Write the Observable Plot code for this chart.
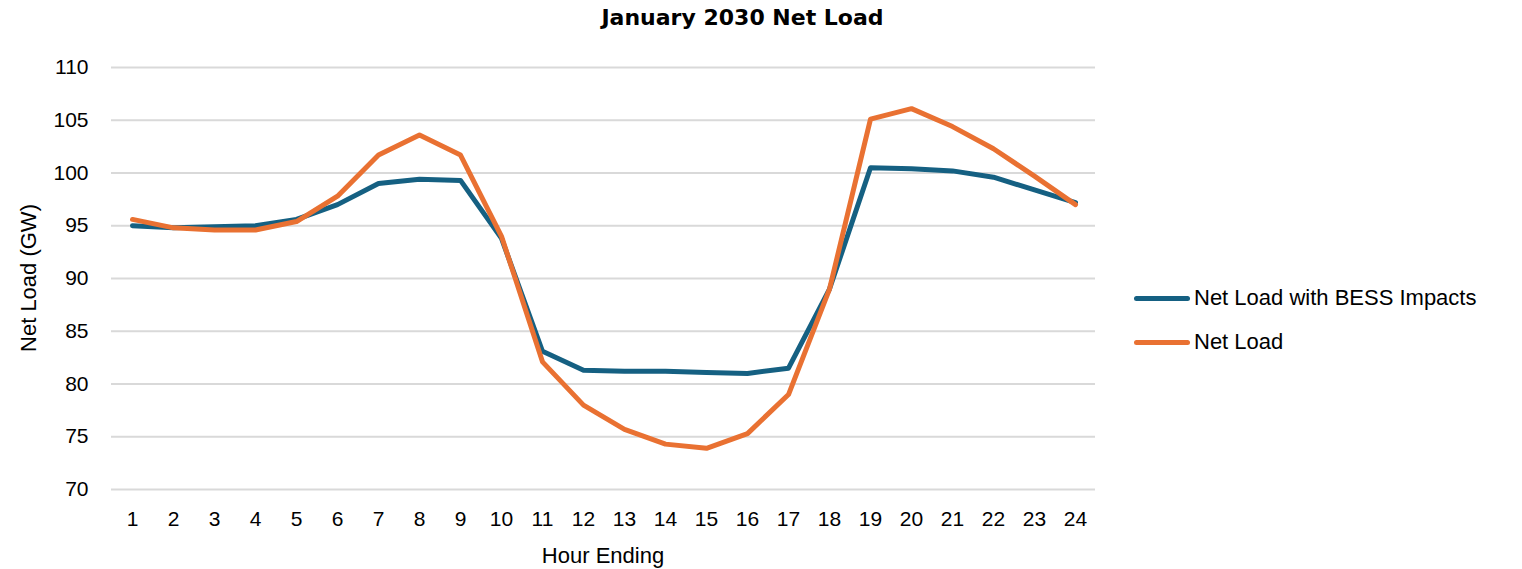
<!DOCTYPE html>
<html>
<head>
<meta charset="utf-8">
<script src="https://cdn.jsdelivr.net/npm/d3@7"></script>
<script src="https://cdn.jsdelivr.net/npm/@observablehq/plot@0.6"></script>
<style>
  html, body { margin: 0; padding: 0; background: #fff; }
  #wrap { position: relative; width: 1522px; height: 569px; font-family: "Liberation Sans", Arial, sans-serif; color: #000; }
  #title { position: absolute; left: 0; width: 1485px; top: 5px; text-align: center; font-family: "DejaVu Sans", sans-serif; font-weight: bold; font-size: 22px; line-height: 26px; }
  #ylabel { position: absolute; left: 29px; top: 278px; transform: translate(-50%, -50%) rotate(-90deg); font-size: 22px; white-space: nowrap; }
  #xlabel { position: absolute; left: 603px; top: 556px; transform: translate(-50%, -50%); font-size: 22px; white-space: nowrap; }
  #legend { position: absolute; left: 1134px; top: 276px; font-size: 22px; }
  .li { display: flex; align-items: center; height: 44px; }
  .sw { width: 56px; height: 5px; border-radius: 3px; margin-right: 4px; }
  #chart { position: absolute; left: 0; top: 0; }
</style>
</head>
<body>
<div id="wrap">
  <div id="chart"></div>
  <div id="title">January 2030 Net Load</div>
  <div id="ylabel">Net Load (GW)</div>
  <div id="xlabel">Hour Ending</div>
  <div id="legend"></div>
</div>
<script>
const hours = [1,2,3,4,5,6,7,8,9,10,11,12,13,14,15,16,17,18,19,20,21,22,23,24];
const bessLoad = [95.0,94.8,94.9,95.0,95.6,97.0,99.0,99.4,99.3,93.8,83.1,81.3,81.2,81.2,81.1,81.0,81.5,89.0,100.5,100.4,100.2,99.6,98.4,97.2];
const netLoad  = [95.6,94.8,94.6,94.6,95.4,97.8,101.7,103.6,101.7,94.0,82.1,78.0,75.7,74.3,73.9,75.3,79.0,89.0,105.1,106.1,104.4,102.3,99.7,97.0];
const seriesNames = ["Net Load with BESS Impacts", "Net Load"];
const seriesColors = ["#156082", "#E97132"];
const yTicks = [70,75,80,85,90,95,100,105,110];

const rows = [];
hours.forEach((h, i) => {
  rows.push({hour: h, value: bessLoad[i], series: seriesNames[0]});
  rows.push({hour: h, value: netLoad[i], series: seriesNames[1]});
});

const chart = Plot.plot({
  width: 1522,
  height: 569,
  marginLeft: 111,
  marginRight: 427,
  marginTop: 67,
  marginBottom: 80,
  style: {fontFamily: "'Liberation Sans', Arial, sans-serif", fontSize: "21px", color: "#000", background: "transparent"},
  x: {type: "point", domain: hours, padding: 0.5, label: null},
  y: {domain: [70, 110], ticks: yTicks, label: null},
  color: {domain: seriesNames, range: seriesColors},
  marks: [
    Plot.gridY(yTicks, {stroke: "#d9d9d9", strokeOpacity: 1, strokeWidth: 2}),
    Plot.axisY(yTicks, {tickSize: 0, tickPadding: 23, fontSize: 21, label: null}),
    Plot.axisX(hours, {tickSize: 0, tickPadding: 22, fontSize: 21, label: null}),
    Plot.line(rows, {x: "hour", y: "value", z: "series", stroke: "series", strokeWidth: 5, strokeLinejoin: "round", strokeLinecap: "round"})
  ]
});
document.getElementById("chart").appendChild(chart);

const legend = document.getElementById("legend");
seriesNames.forEach((name, i) => {
  const d = document.createElement("div");
  d.className = "li";
  d.innerHTML = `<div class="sw" style="background:${seriesColors[i]}"></div><span>${name}</span>`;
  legend.appendChild(d);
});
</script>
</body>
</html>
